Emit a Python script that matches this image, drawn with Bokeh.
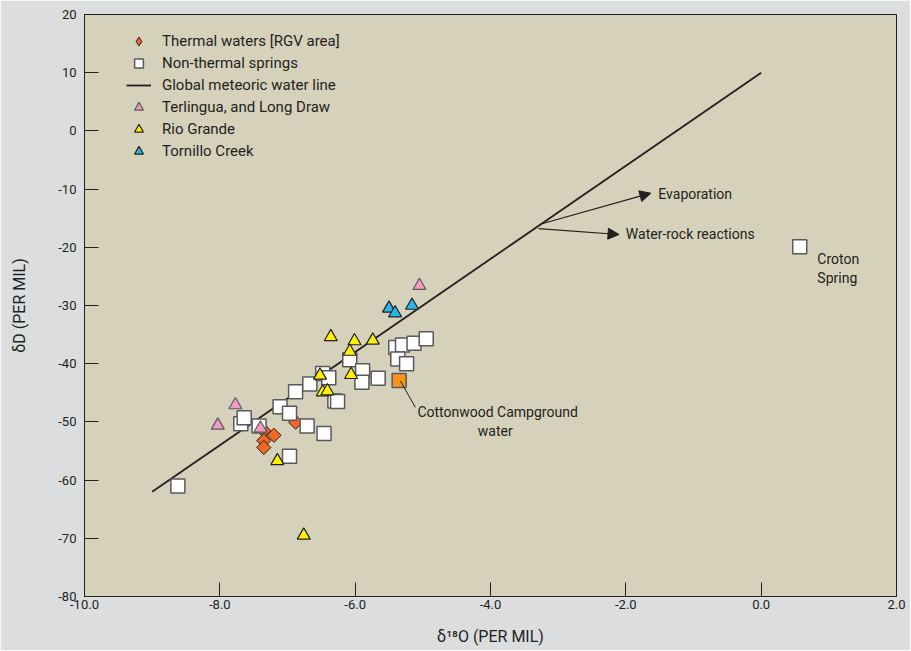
from bokeh.plotting import figure
from bokeh.models import (Range1d, FixedTicker, NumeralTickFormatter, Legend, LegendItem,
                          Arrow, NormalHead, Label)
from bokeh.embed import file_html
from bokeh.resources import INLINE
import numpy as np

FONT = "Roboto"
INK = "#231f20"

# ---- data (delta 18O, delta D in per mil) ----
x_ticks = [-10, -8, -6, -4, -2, 0, 2]
y_ticks = [-80, -70, -60, -50, -40, -30, -20, -10, 0, 10, 20]

gmwl_o = [-9.0, 0.0]
gmwl_d = [-62.0, 10.0]

thermal_o = [-7.35, -7.20, -7.35, -7.35, -6.88]
thermal_d = [-51.5, -52.3, -53.2, -54.4, -50.05]

nonthermal_o = [-8.62, -7.69, -7.64, -7.42, -7.11, -6.97, -6.88, -6.67, -6.48, -6.39,
                -6.30, -6.26, -6.71, -6.46, -6.97, -6.08, -5.89, -5.90, -5.66, -5.40,
                -5.30, -5.13, -4.95, -5.37, -5.24, 0.57]
nonthermal_d = [-61.0, -50.3, -49.3, -50.7, -47.4, -48.5, -44.8, -43.5, -41.7, -42.4,
                -46.4, -46.5, -50.7, -52.0, -55.9, -39.3, -41.2, -43.2, -42.5, -37.2,
                -36.8, -36.5, -35.7, -39.2, -40.0, -19.9]

cottonwood_o = [-5.35]
cottonwood_d = [-42.9]

terlingua_o = [-7.77, -8.03, -7.40, -5.05]
terlingua_d = [-47.1, -50.6, -51.1, -26.6]

riogrande_o = [-6.36, -6.01, -5.74, -6.08, -6.06, -6.52, -6.48, -6.41, -7.15, -6.76]
riogrande_d = [-35.4, -36.1, -36.0, -37.9, -41.9, -42.0, -44.9, -44.7, -56.7, -69.5]

tornillo_o = [-5.50, -5.41, -5.16]
tornillo_d = [-30.5, -31.3, -30.0]

# ---- figure ----
p = figure(width=910, height=650, x_range=Range1d(-10, 2), y_range=Range1d(-80, 20),
           output_backend="svg", toolbar_location=None,
           min_border_left=84, min_border_right=14, min_border_top=14, min_border_bottom=54)
p.background_fill_color = "#d6d1bb"
p.border_fill_color = "#dcdddf"
p.outline_line_color = INK
p.outline_line_width = 1
p.xgrid.grid_line_color = None
p.ygrid.grid_line_color = None

p.xaxis.ticker = FixedTicker(ticks=x_ticks)
p.xaxis.formatter = NumeralTickFormatter(format="0.0")
p.yaxis.ticker = FixedTicker(ticks=y_ticks)
p.yaxis.formatter = NumeralTickFormatter(format="0")
p.xaxis.axis_label = "δ¹⁸O (PER MIL)"
p.yaxis.axis_label = "δD (PER MIL)"
for ax in (p.xaxis[0], p.yaxis[0]):
    ax.major_tick_in = 14
    ax.major_tick_out = 0
    ax.minor_tick_line_color = None
    ax.axis_line_color = INK
    ax.major_tick_line_color = INK
    ax.major_label_text_font = FONT
    ax.major_label_text_font_size = "13px"
    ax.major_label_text_color = INK
    ax.axis_label_text_font = FONT
    ax.axis_label_text_font_size = "16px"
    ax.axis_label_text_font_style = "normal"
    ax.axis_label_text_color = INK
p.yaxis.major_label_standoff = 8
p.xaxis.major_label_standoff = 3
p.yaxis.axis_label_standoff = 26
p.xaxis.axis_label_standoff = 15

# ---- glyphs ----
gm = p.line(gmwl_o, gmwl_d, line_color=INK, line_width=1.8)
th = p.scatter(thermal_o, thermal_d, marker="square", angle=np.pi / 4, size=10,
               fill_color="#f26522", line_color=INK, line_width=1)
# same thermal data, diamond symbol, used only for the legend entry
th_leg = p.scatter(thermal_o, thermal_d, marker="diamond", size=14,
                   fill_color="#f26522", line_color=INK, line_width=1, visible=False)
nt = p.scatter(nonthermal_o, nonthermal_d, marker="square", size=14,
               fill_color="white", line_color="#58595b", line_width=1.5)
cw = p.scatter(cottonwood_o, cottonwood_d, marker="square", size=14,
               fill_color="#f7941d", line_color="#58595b", line_width=1.5)
te = p.scatter(terlingua_o, terlingua_d, marker="triangle", size=13,
               fill_color="#f49ac1", line_color="#58595b", line_width=1.2)
rg = p.scatter(riogrande_o, riogrande_d, marker="triangle", size=13,
               fill_color="#fff200", line_color=INK, line_width=1.2)
tc = p.scatter(tornillo_o, tornillo_d, marker="triangle", size=13,
               fill_color="#29b6e8", line_color=INK, line_width=1.2)

legend = Legend(items=[
    LegendItem(label="Thermal waters [RGV area]", renderers=[th_leg]),
    LegendItem(label="Non-thermal springs", renderers=[nt]),
    LegendItem(label="Global meteoric water line", renderers=[gm]),
    LegendItem(label="Terlingua, and Long Draw", renderers=[te]),
    LegendItem(label="Rio Grande", renderers=[rg]),
    LegendItem(label="Tornillo Creek", renderers=[tc]),
], location=(42, 434), glyph_width=25, glyph_height=22, spacing=0, padding=0, margin=0,
    label_standoff=11, label_height=22, label_text_font=FONT, label_text_font_size="15px",
    label_text_color=INK, background_fill_alpha=0, border_line_color=None)
p.add_layout(legend)

# ---- annotations ----
p.add_layout(Arrow(end=NormalHead(size=11, fill_color=INK, line_color=INK),
                   x_start=-3.24, y_start=-15.96, x_end=-1.63, y_end=-10.7,
                   line_color=INK, line_width=1.2))
p.add_layout(Arrow(end=NormalHead(size=11, fill_color=INK, line_color=INK),
                   x_start=-3.29, y_start=-16.8, x_end=-2.10, y_end=-17.8,
                   line_color=INK, line_width=1.2))
p.add_layout(Arrow(end=None, x_start=-5.33, y_start=-43.0, x_end=-5.11, y_end=-47.5,
                   line_color=INK, line_width=1))

def lab(x, y, t, align="left"):
    p.add_layout(Label(x=x, y=y, text=t, text_baseline="middle", text_align=align,
                       text_font=FONT, text_font_size="14px", text_color=INK))

lab(-1.52, -10.8, "Evaporation")
lab(-2.0, -17.7, "Water-rock reactions")
lab(0.83, -22.0, "Croton")
lab(0.83, -25.2, "Spring")
lab(-5.08, -48.3, "Cottonwood Campground")
lab(-3.93, -51.6, "water", "center")

open("out.html", "w").write(file_html(p, INLINE))
